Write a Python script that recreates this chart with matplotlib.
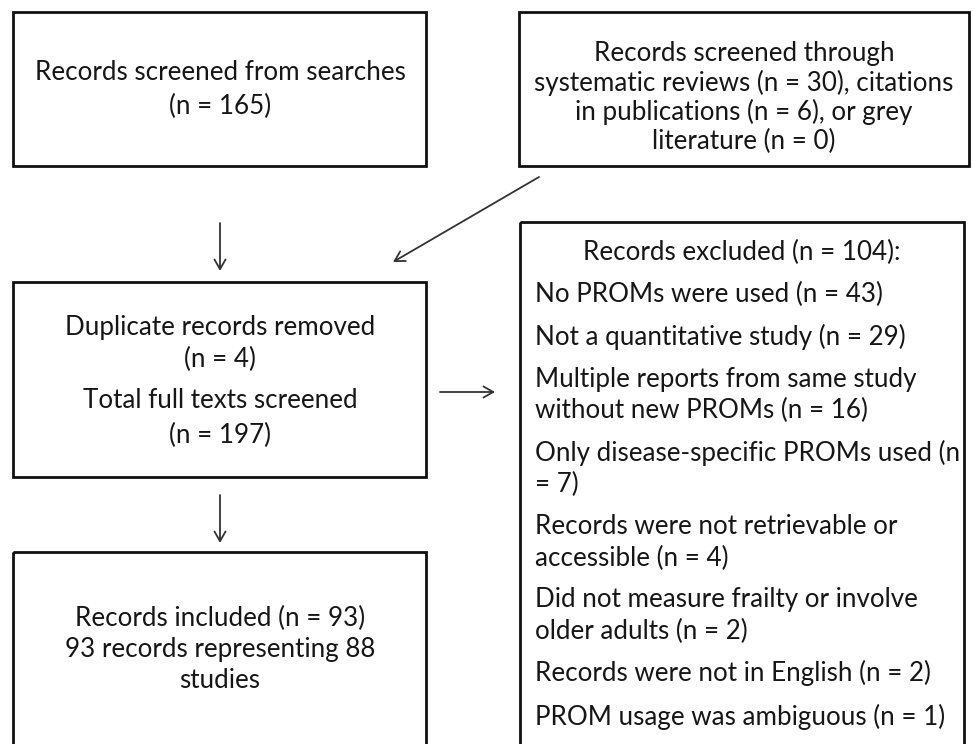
import matplotlib
matplotlib.use("Agg")
import matplotlib.pyplot as plt
from matplotlib.patches import Rectangle, FancyArrowPatch

# ---- content ----
search_lines = ["Records screened from searches", "(n = 165)"]
other_lines = ["Records screened through", "systematic reviews (n = 30), citations",
               "in publications (n = 6), or grey", "literature (n = 0)"]
dup_lines = ["Duplicate records removed", "(n = 4)"]
full_lines = ["Total full texts screened", "(n = 197)"]
included_lines = ["Records included (n = 93)", "93 records representing 88", "studies"]
excluded_title = "Records excluded (n = 104):"
excluded_items = [
    ["No PROMs were used (n = 43)"],
    ["Not a quantitative study (n = 29)"],
    ["Multiple reports from same study", "without new PROMs (n = 16)"],
    ["Only disease-specific PROMs used (n", "= 7)"],
    ["Records were not retrievable or", "accessible (n = 4)"],
    ["Did not measure frailty or involve", "older adults (n = 2)"],
    ["Records were not in English (n = 2)"],
    ["PROM usage was ambiguous (n = 1)"],
]

W, H = 973, 744
fig = plt.figure(figsize=(W / 100, H / 100), dpi=100)
ax = fig.add_axes([0, 0, 1, 1])
ax.set_xlim(0, W)
ax.set_ylim(H, 0)
ax.axis("off")

FONT = "Lato"
FS = 18.7
TXT = "#161616"
BOX_LW = 2.0


def box(x0, y0, x1, y1):
    ax.add_patch(Rectangle((x0, y0), x1 - x0, y1 - y0, fill=False,
                           edgecolor="#111111", linewidth=BOX_LW, clip_on=False))


def lines_at(xc, ys, texts, ha="center"):
    for y, t in zip(ys, texts):
        ax.text(xc, y, t, ha=ha, va="center", fontsize=FS, family=FONT, color=TXT)


def arrow(p0, p1):
    ax.add_patch(FancyArrowPatch(p0, p1, arrowstyle="->,head_length=7,head_width=4",
                                 color="#333333", linewidth=1.3, shrinkA=0, shrinkB=0))


# boxes
box(13, 12, 426, 166)
box(519, 12, 969, 166)
box(13, 282, 426, 477)
box(520, 222, 964, 760)
box(13, 552, 426, 760)

# texts
lines_at(220, [73, 106], search_lines)
lines_at(744, [53, 83, 112, 141], other_lines)
lines_at(220, [328, 359], dup_lines)
lines_at(220, [401, 435], full_lines)
lines_at(220, [618, 649, 681], included_lines)
lines_at(742, [252], [excluded_title])

ys = [294, 337, [380, 410], [453, 484], [527, 558], [600, 631], 673, 717]
for y, item in zip(ys, excluded_items):
    yy = y if isinstance(y, list) else [y]
    lines_at(535, yy, item, ha="left")

# arrows
arrow((220, 223), (220, 271))
arrow((539, 177), (393, 262))
arrow((440, 392), (495, 392))
arrow((220, 495), (220, 543))

fig.savefig("out.png", dpi=100, facecolor="white")
